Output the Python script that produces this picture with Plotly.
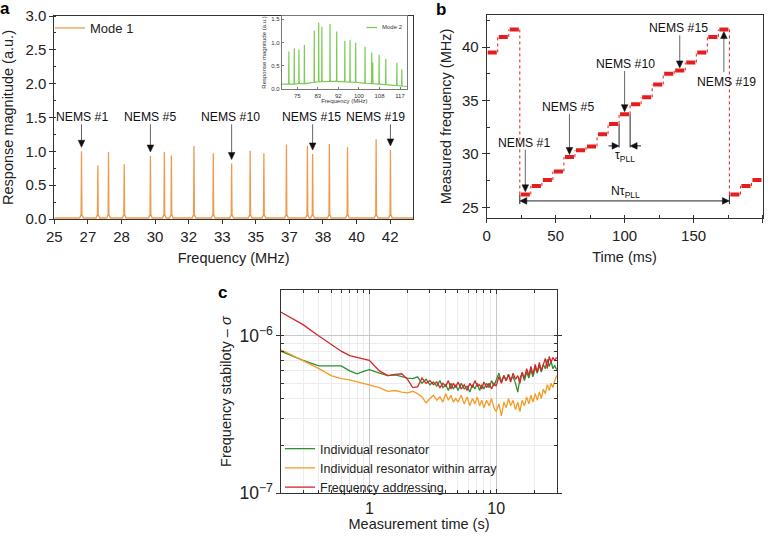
import math
import plotly.graph_objects as go

# ====================== DATA ======================
# Panel a - mode 1 spectrum: resonance peak centres (MHz) and heights (a.u.)
mode1_freq = [26.35, 27.16, 27.69, 28.47, 29.77, 30.46, 30.81, 31.93, 32.89, 33.80,
              34.72, 35.40, 36.52, 37.56, 37.82, 38.65, 39.55, 40.97, 41.68]
mode1_amp = [1.00, 0.79, 0.99, 0.81, 0.93, 0.99, 0.94, 1.08, 0.97, 0.82,
             1.01, 0.97, 1.10, 1.08, 0.96, 1.11, 1.06, 1.18, 1.02]
mode1_floor = 0.015
a_tick_vals = [25.0, 26.667, 28.333, 30.0, 31.667, 33.333, 35.0, 36.667, 38.333, 40.0, 41.667]
a_tick_text = ["25", "27", "28", "30", "32", "33", "35", "37", "38", "40", "42"]
nems_marked = [1, 5, 10, 15, 19]
nems_labels = ["NEMS #1", "NEMS #5", "NEMS #10", "NEMS #15", "NEMS #19"]

# Inset - mode 2 spectrum
mode2_freq = [71.6, 73.8, 75.7, 77.9, 81.9, 83.7, 85.0, 88.3, 91.0, 94.3,
              96.4, 98.7, 102.5, 105.2, 105.6, 108.2, 110.9, 115.4, 117.4]
mode2_amp = [0.81, 0.88, 0.86, 0.95, 1.26, 1.43, 1.34, 1.40, 1.24, 1.04,
             1.06, 1.00, 0.91, 0.79, 0.57, 0.74, 0.65, 0.57, 0.43]
mode2_floor = [0.11, 0.11, 0.12, 0.12, 0.15, 0.16, 0.165, 0.17, 0.17, 0.16,
               0.155, 0.15, 0.13, 0.12, 0.12, 0.11, 0.10, 0.08, 0.07]
mode2_edge_freq = [68.7, 119.5]
mode2_edge_level = [0.11, 0.06]
inset_tick_vals = [75.0, 83.333, 91.667, 100.0, 108.333, 116.667]
inset_tick_text = ["75", "83", "92", "100", "108", "117"]

# Panel b - measured frequency of each NEMS (MHz) in the PLL sweep
nems_freq = [26.2, 27.0, 27.55, 28.35, 29.7, 30.35, 30.7, 31.85, 32.8, 33.7,
             34.65, 35.3, 36.5, 37.5, 37.8, 38.55, 39.5, 40.95, 41.65]
tau_pll_ms = 8
step_order = [17, 18, 19] + list(range(1, 20)) + [1, 2, 3]

# Panel c - Allan deviation vs measurement time
tau_s = [0.2, 0.3, 0.4, 0.5, 0.6, 0.7, 0.8, 0.9,
         1.0, 1.2, 1.4, 1.6, 1.8, 2.0,
         2.2, 2.4, 2.6, 2.8, 3.0, 3.2, 3.4, 3.6, 3.8, 4.0, 4.2, 4.4, 4.6, 4.8, 5.0,
         5.3, 5.6, 5.9, 6.2, 6.5, 6.8, 7.1, 7.4, 7.7, 8.0,
         8.4, 8.8, 9.2, 9.6, 10.0,
         10.5, 11.0, 11.5, 12.0, 12.5, 13.0,
         13.6, 14.2, 14.8, 15.4, 16.0,
         16.7, 17.4, 18.1, 18.8, 19.5,
         20.3, 21.1, 21.9, 22.7, 23.5,
         24.4, 25.3, 26.2, 27.1, 28.0, 29.0, 30.0]
# values in units of 1e-7
sigma_individual = [8.0, 7.0, 6.45, 6.45, 6.45, 6.0, 5.75, 5.95,
                    6.1, 5.8, 5.6, 5.65, 5.5, 5.4,
                    5.35, 5.5, 5.0, 5.3, 4.9, 5.1, 4.8, 5.2, 4.7, 4.9, 4.5, 5.0, 4.6, 4.9, 4.5,
                    5.0, 4.6, 4.8, 4.4, 4.9, 4.6, 5.0, 4.5, 4.9, 4.6,
                    5.0, 4.7, 5.2, 4.8, 5.3,
                    5.8, 5.1, 5.6, 5.2, 5.7, 5.3,
                    5.5, 5.0, 4.4, 5.4, 5.8,
                    5.2, 5.9, 5.4, 6.1, 5.5,
                    6.3, 5.8, 6.5, 5.9, 6.6,
                    6.2, 7.1, 6.4, 6.9, 6.2, 6.5, 6.1]
sigma_in_array = [8.2, 7.0, 6.2, 5.6, 5.35, 5.25, 5.1, 5.0,
                  4.9, 4.7, 4.45, 4.5, 4.4, 4.35,
                  4.45, 4.3, 4.1, 3.75, 4.0, 4.2, 3.9, 4.1, 3.8, 4.3, 3.9, 4.2, 3.8, 4.0, 3.8,
                  4.2, 3.7, 4.1, 3.6, 4.0, 3.7, 4.1, 3.6, 3.9, 3.5,
                  3.9, 3.6, 4.0, 3.5, 3.3,
                  3.7, 3.1, 3.8, 3.5, 4.0, 3.6,
                  3.9, 3.4, 3.8, 3.3, 3.9,
                  3.6, 4.1, 3.7, 4.2, 3.8,
                  4.3, 3.9, 4.4, 4.0, 4.6,
                  4.3, 4.9, 4.5, 5.0, 4.7, 5.2, 5.6]
sigma_addressing = [14.2, 11.8, 10.0, 8.9, 8.0, 7.5, 7.3, 7.15,
                    7.0, 6.0, 5.6, 5.7, 5.75, 5.3,
                    4.7, 4.75, 5.4, 5.0, 5.2, 4.9, 5.1, 4.7, 5.0, 4.8, 5.2, 4.6, 5.0, 4.7, 5.1,
                    4.6, 4.9, 4.5, 5.0, 4.7, 5.2, 4.8, 4.9, 4.6, 5.1,
                    4.7, 5.0, 4.6, 5.0, 4.8,
                    5.5, 5.0, 5.6, 5.2, 5.7, 5.1,
                    5.8, 5.3, 5.6, 5.0, 5.9,
                    5.4, 6.2, 5.6, 6.4, 5.7,
                    6.6, 5.9, 6.8, 6.0, 6.5,
                    7.2, 6.2, 7.4, 6.8, 7.3, 7.0, 7.3]
c_names = ["Individual resonator", "Individual resonator within array", "Frequency addressing"]

# ====================== STYLE / LAYOUT ======================
W, H = 775, 538
FONT = "Liberation Sans, Arial, Helvetica, sans-serif"
ORANGE_A = "#EE9B4F"
GREEN_IN = "#7ACC55"
RED_B = "#E41E1E"
C_GREEN, C_ORANGE, C_RED = "#2F8F2F", "#F39C26", "#D7262B"
AXC = "#333333"

# panel geometry in window pixels
A_X, A_Y, A_XR, A_YR = (54.3, 413), (219, 16), (25, 42.8), (0, 3)
B_X, B_Y, B_XR, B_YR = (486.7, 762.5), (218, 15), (0, 200), (24, 43)


def px_x(p):
    return p / W


def px_y(p):
    return 1 - p / H


def scale(dom, rng):
    return abs(dom[1] - dom[0]) / (rng[1] - rng[0])


def spikes(freqs, amps, floors, edge_f, edge_l, hb, hs, sh):
    xs, ys = [edge_f[0]], [edge_l[0]]
    for f, a, fl in zip(freqs, amps, floors):
        xs += [f - hb, f - hs, f, f + hs, f + hb]
        ys += [fl, fl + sh, a, fl + sh, fl]
    xs.append(edge_f[1])
    ys.append(edge_l[1])
    return xs, ys


def arrow(xref, yref, sx, sy, x0, y0, x1, y1, both=False, shaft="#555", head="#111",
          hlen=7.0, hw=3.3):
    """Arrow from (x0,y0) to (x1,y1) in data coords, heads as filled path shapes."""
    dxp, dyp = (x1 - x0) * sx, (y1 - y0) * sy
    L = math.hypot(dxp, dyp)
    ux, uy = dxp / L, dyp / L
    out = []

    def head_at(tx, ty, dx, dy):
        bx, by = -dx * hlen, -dy * hlen
        pxo, pyo = -dy * hw, dx * hw
        p1 = (tx + (bx + pxo) / sx, ty + (by + pyo) / sy)
        p2 = (tx + (bx - pxo) / sx, ty + (by - pyo) / sy)
        out.append(dict(type="path", xref=xref, yref=yref, fillcolor=head,
                        line=dict(color=head, width=0.5),
                        path="M%f,%f L%f,%f L%f,%f Z" % (tx, ty, p1[0], p1[1], p2[0], p2[1])))
        return tx - dx * hlen / sx * 0.9, ty - dy * hlen / sy * 0.9

    ex, ey = head_at(x1, y1, ux, uy)
    sx0, sy0 = x0, y0
    if both:
        sx0, sy0 = head_at(x0, y0, -ux, -uy)
    out.insert(0, dict(type="line", xref=xref, yref=yref, x0=sx0, y0=sy0, x1=ex, y1=ey,
                       line=dict(color=shaft, width=1)))
    return out


fig = go.Figure()

# ---- panel a main ----
ax_, ay_ = spikes(mode1_freq, mode1_amp, [mode1_floor] * len(mode1_freq),
                  [A_XR[0], A_XR[1]], [mode1_floor, mode1_floor], 0.09, 0.02, 0.05)
fig.add_trace(go.Scatter(x=ax_, y=ay_, mode="lines", name="Mode 1",
                         line=dict(color=ORANGE_A, width=1.3),
                         xaxis="x", yaxis="y", legend="legend2"))

# ---- inset ----
ix_, iy_ = spikes(mode2_freq, mode2_amp, mode2_floor, mode2_edge_freq, mode2_edge_level,
                  0.25, 0.08, 0.03)
fig.add_trace(go.Scatter(x=ix_, y=iy_, mode="lines", name="Mode 2", showlegend=False,
                         line=dict(color=GREEN_IN, width=1.2),
                         xaxis="x2", yaxis="y2"))

# ---- panel b ----
conn_x, conn_y, seg_x, seg_y = [], [], [], []
for k, n in enumerate(step_order):
    t0 = k * tau_pll_ms
    f = nems_freq[n - 1]
    seg_x += [t0 + 0.7, t0 + tau_pll_ms - 0.7, None]
    seg_y += [f, f, None]
    if k > 0:
        fp = nems_freq[step_order[k - 1] - 1]
        conn_x += [t0, t0, None]
        conn_y += [fp, f, None]
fig.add_trace(go.Scatter(x=conn_x, y=conn_y, mode="lines", showlegend=False,
                         line=dict(color=RED_B, width=1, dash="dot"),
                         xaxis="x3", yaxis="y3"))
fig.add_trace(go.Scatter(x=seg_x, y=seg_y, mode="lines", showlegend=False,
                         line=dict(color=RED_B, width=4),
                         xaxis="x3", yaxis="y3"))

# ---- panel c ----
for name, vals, col in zip(c_names, [sigma_individual, sigma_in_array, sigma_addressing],
                           [C_GREEN, C_ORANGE, C_RED]):
    fig.add_trace(go.Scatter(x=tau_s, y=[v * 1e-7 for v in vals], mode="lines", name=name,
                             line=dict(color=col, width=1.3),
                             xaxis="x4", yaxis="y4", legend="legend"))

# ---- annotations and arrow shapes ----
ann = []
shapes = []
tick_font = dict(family=FONT, size=15, color="#222")
title_font = dict(family=FONT, size=14.5, color="#222")
tiny_font = dict(family=FONT, size=6, color="#333")
nem_font = dict(family=FONT, size=12.2, color="#111")

sxa, sya = scale(A_X, A_XR), scale(A_Y, A_YR)
sxb, syb = scale(B_X, B_XR), scale(B_Y, B_YR)

# panel labels
for lab, x, y in [("a", 5, 8), ("b", 441, 9), ("c", 223, 292)]:
    ann.append(dict(text="<b>%s</b>" % lab, x=px_x(x), y=px_y(y), xref="paper", yref="paper",
                    showarrow=False, font=dict(family=FONT, size=17, color="#000"),
                    xanchor="center", yanchor="middle"))
ann.append(dict(text="Mode 2", x=px_x(380), y=px_y(27.5), xref="paper", yref="paper",
                showarrow=False, xanchor="left", yanchor="middle", font=tiny_font))

# panel a NEMS arrows and labels
a_text_x = [26.36, 29.76, 33.76, 37.75, 40.95]
for n, lab, tx in zip(nems_marked, nems_labels, a_text_x):
    f = mode1_freq[n - 1]
    h = mode1_amp[n - 1]
    shapes += arrow("x", "y", sxa, sya, f, 1.40, f, h + 0.06, shaft="#666")
    ann.append(dict(x=tx, y=1.51, xref="x", yref="y", text=lab, showarrow=False, font=nem_font))

# panel b NEMS arrows and labels
b_text_pos = [(27.1, 31.0), (59.3, 34.4), (100.5, 38.45), (139.2, 41.78), (173.9, 36.72)]
b_tail_y = [30.4, 33.75, 37.76, 41.1, 37.65]
for n, lab, (tx, ty), tail in zip(nems_marked, nems_labels, b_text_pos, b_tail_y):
    k = step_order.index(n, 3)
    tmid = k * tau_pll_ms + tau_pll_ms / 2
    f = nems_freq[n - 1]
    tip = f + 0.25 if tail > f else f - 0.2
    shapes += arrow("x3", "y3", sxb, syb, tmid, tail, tmid, tip, shaft="#666")
    ann.append(dict(x=tx, y=ty, xref="x3", yref="y3", text=lab, showarrow=False, font=nem_font))

# tau_PLL and N tau_PLL markers (derived from the step timing)
k10 = step_order.index(10)
t10a, t10b = k10 * tau_pll_ms, (k10 + 1) * tau_pll_ms
cyc0 = step_order.index(1) * tau_pll_ms
cyc1 = cyc0 + len(nems_freq) * tau_pll_ms
shapes += arrow("x3", "y3", sxb, syb, t10a - 7.7, 30.75, t10a, 30.75, shaft="#222")
shapes += arrow("x3", "y3", sxb, syb, t10b + 7.9, 30.75, t10b, 30.75, shaft="#222")
shapes += arrow("x3", "y3", sxb, syb, cyc0, 25.6, cyc1, 25.6, both=True, shaft="#222")
ann += [
    dict(x=100.5, y=29.85, xref="x3", yref="y3", text="τ<sub>PLL</sub>", showarrow=False,
         font=nem_font),
    dict(x=100.5, y=26.4, xref="x3", yref="y3", text="Nτ<sub>PLL</sub>", showarrow=False,
         font=nem_font),
]

shapes += [
    dict(type="line", xref="x3", yref="y3", x0=t10a, x1=t10a, y0=30.6, y1=nems_freq[8],
         line=dict(color="#222", width=1)),
    dict(type="line", xref="x3", yref="y3", x0=t10b, x1=t10b, y0=30.6, y1=nems_freq[9],
         line=dict(color="#222", width=1)),
    dict(type="line", xref="x3", yref="y3", x0=cyc0, x1=cyc0, y0=25.3, y1=nems_freq[0],
         line=dict(color="#222", width=1)),
    dict(type="line", xref="x3", yref="y3", x0=cyc1, x1=cyc1, y0=25.3, y1=nems_freq[0],
         line=dict(color="#222", width=1)),
    # inset legend sample line
    dict(type="line", xref="paper", yref="paper", x0=px_x(366.5), x1=px_x(377), y0=px_y(27.5),
         y1=px_y(27.5), line=dict(color=GREEN_IN, width=1.3)),
]

base_axis = dict(showline=True, linecolor=AXC, linewidth=1, mirror=True, showgrid=False,
                 zeroline=False, ticks="outside", ticklen=4, tickcolor=AXC, tickwidth=1,
                 tickfont=tick_font, automargin=False)


def ttl(text, standoff, font=title_font):
    return dict(text=text, font=font, standoff=standoff)


fig.update_layout(
    width=W, height=H, margin=dict(l=0, r=0, t=0, b=0, autoexpand=False),
    paper_bgcolor="white", plot_bgcolor="white",
    font=dict(family=FONT, color="#222"),
    xaxis=dict(base_axis, domain=[px_x(A_X[0]), px_x(A_X[1])], range=list(A_XR),
               tickmode="array", tickvals=a_tick_vals, ticktext=a_tick_text, anchor="y",
               title=ttl("Frequency (MHz)", 8)),
    yaxis=dict(base_axis, domain=[px_y(A_Y[0]), px_y(A_Y[1])], range=list(A_YR), dtick=0.5,
               tickformat=".1f", anchor="x", title=ttl("Response magnitude (a.u.)", 10),
               minor=dict(ticks="inside", ticklen=2, dtick=0.25, tickcolor=AXC)),
    xaxis2=dict(base_axis, domain=[px_x(281.7), px_x(407)], range=[68.7, 119.5],
                tickmode="array", tickvals=inset_tick_vals, ticktext=inset_tick_text,
                ticks="inside", ticklen=2, linecolor="#777", tickcolor="#777",
                tickfont=tiny_font, anchor="y2", title=ttl("Frequency (MHz)", 1, tiny_font)),
    yaxis2=dict(base_axis, domain=[px_y(89.3), px_y(15.7)], range=[0, 1.577], dtick=0.5,
                tickformat=".1f", ticks="inside", ticklen=2, linecolor="#777",
                tickcolor="#777", tickfont=tiny_font, anchor="x2",
                title=ttl("Response magnitude (a.u.)", 4, tiny_font)),
    xaxis3=dict(base_axis, domain=[px_x(B_X[0]), px_x(B_X[1])], range=list(B_XR), dtick=50,
                anchor="y3", title=ttl("Time (ms)", 8),
                minor=dict(ticks="inside", ticklen=3, dtick=25, tickcolor=AXC)),
    yaxis3=dict(base_axis, domain=[px_y(B_Y[0]), px_y(B_Y[1])], range=list(B_YR),
                tickvals=[25, 30, 35, 40], anchor="x3", title=ttl("Measured frequency (MHz)", 6),
                minor=dict(ticks="inside", ticklen=3, dtick=2.5, tick0=25, tickcolor=AXC)),
    xaxis4=dict(base_axis, domain=[px_x(280.7), px_x(557.3)], type="log",
                range=[-0.699, 1.482], dtick=1, anchor="y4", mirror="ticks", ticks="inside",
                tickfont=dict(family=FONT, size=16, color="#222"),
                title=ttl("Measurement time (s)", 3),
                showgrid=True, gridcolor="#c9c9c9", gridwidth=1,
                minor=dict(ticks="inside", ticklen=3, dtick="D1", tickcolor=AXC,
                           showgrid=True, gridcolor="#ececec", gridwidth=1)),
    yaxis4=dict(base_axis, domain=[px_y(493.3), px_y(290)], type="log",
                range=[-7, -5.708], dtick=1, exponentformat="power", showexponent="all",
                tickfont=dict(family=FONT, size=14, color="#222"),
                anchor="x4", mirror="ticks", title=ttl("Frequency stabiloty – <i>σ</i>", 4),
                showgrid=True, gridcolor="#c9c9c9", gridwidth=1,
                minor=dict(ticks="inside", ticklen=3, dtick="D1", tickcolor=AXC,
                           showgrid=True, gridcolor="#ececec", gridwidth=1)),
    legend=dict(x=px_x(280), y=px_y(468), xanchor="left", yanchor="middle",
                bgcolor="rgba(0,0,0,0)", borderwidth=0, tracegroupgap=0,
                font=dict(family=FONT, size=12.5, color="#222")),
    legend2=dict(x=px_x(50), y=px_y(28), xanchor="left", yanchor="middle",
                 bgcolor="rgba(0,0,0,0)", borderwidth=0,
                 font=dict(family=FONT, size=13, color="#222")),
    annotations=ann,
    shapes=shapes,
)

# remove the browser's default 8px page margin so the figure starts at the window corner
fig.write_html("out.html", config={"displayModeBar": False},
               post_script="document.body.style.margin='0px';")
